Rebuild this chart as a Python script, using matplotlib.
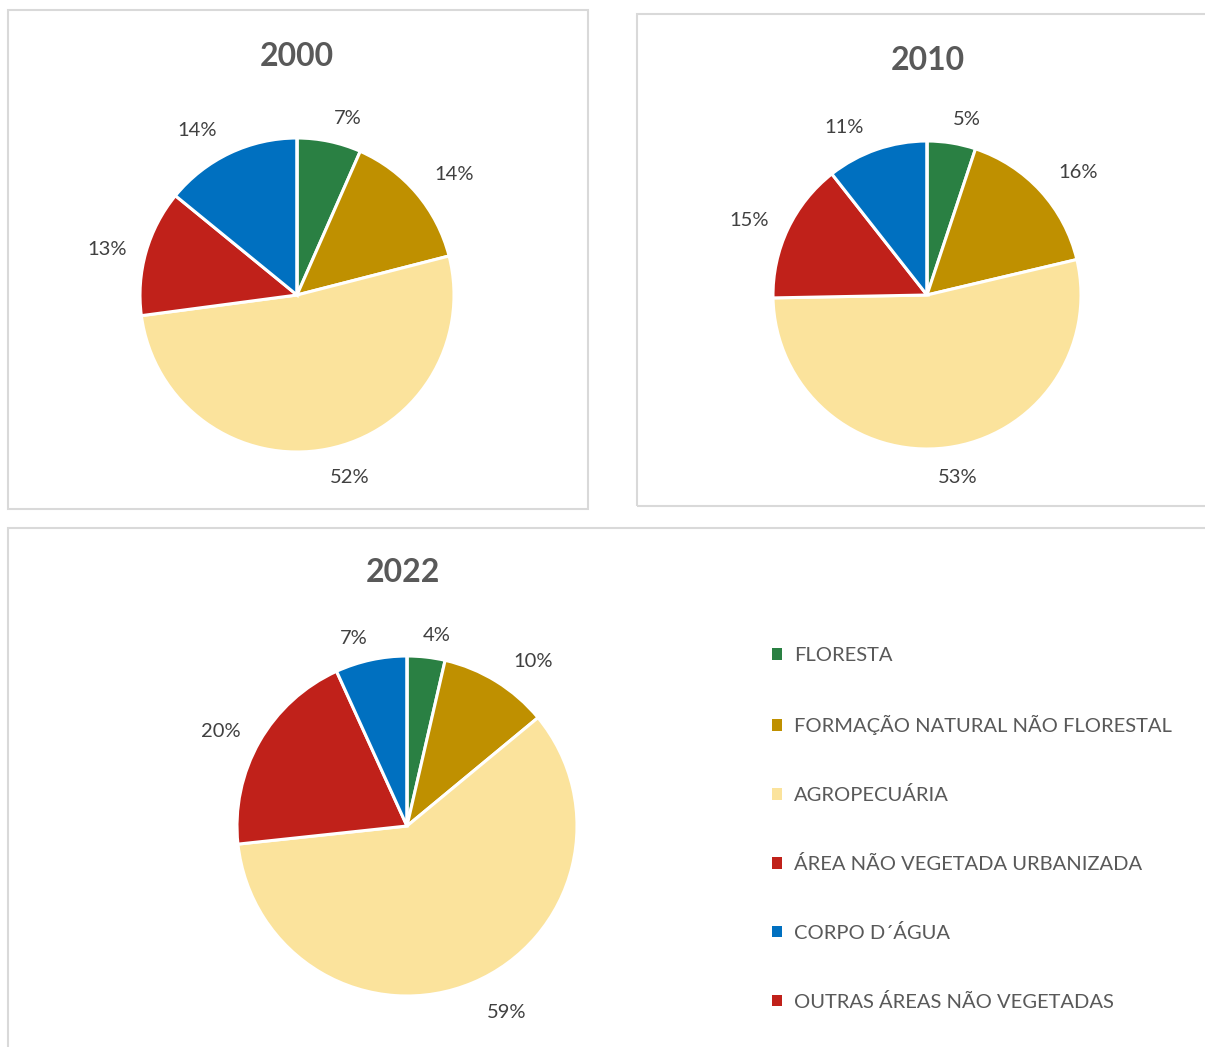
import matplotlib
matplotlib.use("Agg")
import matplotlib.pyplot as plt
from matplotlib.patches import Rectangle, Patch

plt.rcParams['font.family'] = ['Lato', 'DejaVu Sans']

categories = ["FLORESTA", "FORMAÇÃO NATURAL NÃO FLORESTAL", "AGROPECUÁRIA",
              "ÁREA NÃO VEGETADA URBANIZADA", "CORPO D´ÁGUA",
              "OUTRAS ÁREAS NÃO VEGETADAS"]
colors = ["#2a8043", "#bf9000", "#fbe39c", "#c0211a", "#0070c0", "#c0211a"]

years = ["2000", "2010", "2022"]
v2000 = [6.6, 14.4, 51.9, 13.0, 14.1, 0.0]
v2010 = [5.1, 16.2, 53.4, 14.7, 10.6, 0.0]
v2022 = [3.6, 10.4, 59.3, 19.9, 6.8, 0.0]
values = [v2000, v2010, v2022]

W, H = 1205, 1047
fig = plt.figure(figsize=(W / 100, H / 100), dpi=100)
fig.patch.set_facecolor("white")

def px(x, y):
    return x / W, 1 - y / H

# chart boxes (x0, y0, x1, y1) in pixels
boxes = [(8, 10, 588, 509), (637, 14, 1210, 506), (8, 528, 1210, 1052)]
for x0, y0, x1, y1 in boxes:
    fx0, fy1 = px(x0, y1)
    fig.add_artist(Rectangle((fx0, fy1), (x1 - x0) / W, (y1 - y0) / H,
                             transform=fig.transFigure, fill=False,
                             edgecolor="#d9d9d9", linewidth=1.5))

# pie centre and radius in pixels, title position
pies = [(297, 295, 157), (927, 295, 154), (407, 826, 170)]
titles = [(297, 57), (928, 61), (403, 572)]
label_dist = [[1.19, 1.26, 1.2, 1.25, 1.24, 1.2],
              [1.2, 1.25, 1.2, 1.25, 1.22, 1.2],
              [1.2, 1.2, 1.22, 1.24, 1.22, 1.2]]
# label nudges in pixels (right, down), Excel best-fit placement
label_nudge = [[(12, 6), (6, 8), (17, -2), (-1, 8), (-16, 11), (0, 0)],
               [(10, 7), (9, 8), (8, -1), (-4, 8), (-22, 10), (0, 0)],
               [(7, 12), (19, 9), (19, -5), (-3, 10), (-9, 15), (0, 0)]]

k = 1.6
for i, (cx, cy, r) in enumerate(pies):
    side = 2 * r * k
    fx, fy = px(cx - side / 2, cy + side / 2)
    ax = fig.add_axes([fx, fy, side / W, side / H])
    vals = values[i]
    wedges, texts = ax.pie(vals, colors=colors, startangle=90, counterclock=False,
                           labels=[f"{round(v)}%" if v > 0 else "" for v in vals],
                           labeldistance=1.22,
                           wedgeprops=dict(edgecolor="white", linewidth=2.2),
                           textprops=dict(fontsize=14.5, color="#404040"))
    for t, d, (nx, ny) in zip(texts, label_dist[i], label_nudge[i]):
        x, y = t.get_position()
        t.set_position((x / 1.22 * d + nx / r, y / 1.22 * d - ny / r))
        t.set_ha("center")
        t.set_va("center")
    ax.set_xlim(-k, k)
    ax.set_ylim(-k, k)
    ax.set_aspect("equal")
    ax.axis("off")
    tx, ty = px(*titles[i])
    fig.text(tx, ty, years[i], ha="center", va="center", fontsize=23,
             fontweight="bold", color="#595959")

handles = [Patch(facecolor=c, edgecolor="none") for c in colors]
lx, ly = px(772, 647)
fig.legend(handles, categories, loc="upper left", bbox_to_anchor=(lx, ly),
           frameon=False, fontsize=14.5, labelcolor="#595959",
           handlelength=0.5, handleheight=0.5, handletextpad=0.6,
           labelspacing=2.53, borderpad=0, borderaxespad=0)

fig.savefig("out.png", dpi=100, facecolor="white")
